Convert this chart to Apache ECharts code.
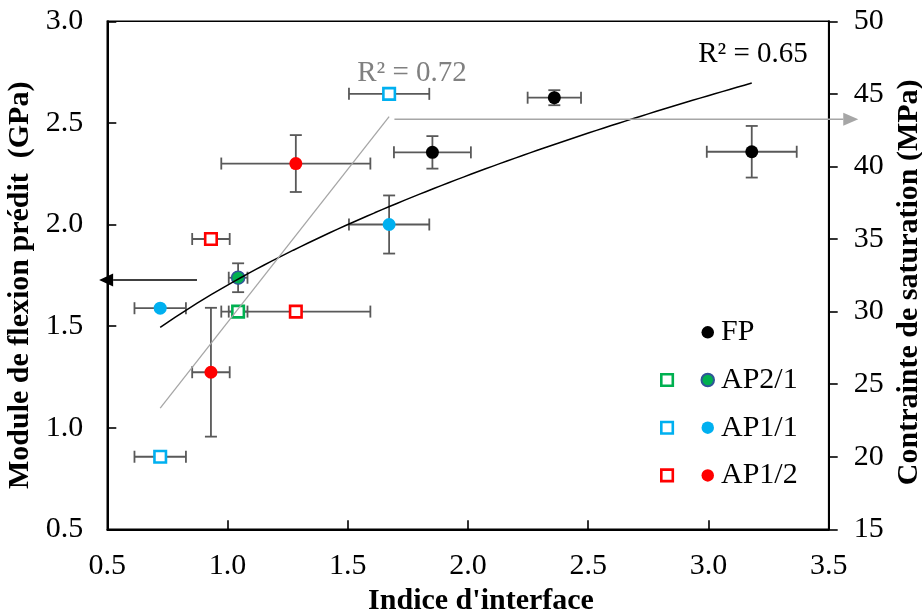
<!DOCTYPE html>
<html><head><meta charset="utf-8">
<script src="https://cdn.jsdelivr.net/npm/echarts@6/dist/echarts.min.js"></script>
<style>html,body{margin:0;padding:0;background:#fff}#c{width:922px;height:616px}</style>
</head><body><div id="c"></div>
<script>
// ---------- data ----------
const xAxisRange = [0.5, 3.5, 0.5];
const yLeftRange = [0.5, 3.0, 0.5];
const yRightRange = [15, 50, 5];
const xTitle = "Indice d'interface";
const yLeftTitle = "Module de flexion prédit  (GPa)";
const yRightTitle = "Contrainte de saturation (MPa)";

// Filled circles : predicted flexural modulus (left axis)
const fpX = [1.852, 2.359, 3.180];
const fpY = [2.355, 2.624, 2.358];
const fpXErr = [0.160, 0.111, 0.187];
const fpYErr = [0.080, 0.037, 0.127];

const ap21X = [1.044];
const ap21Y = [1.738];
const ap21XErr = [0.039];
const ap21YErr = [0.071];

const ap11X = [1.672, 0.720];
const ap11Y = [2.000, 1.588];
const ap11XErr = [0.167, 0.107];
const ap11YErr = [0.143, 0];

const ap12X = [1.284, 0.931];
const ap12Y = [2.300, 1.273];
const ap12XErr = [0.310, 0.078];
const ap12YErr = [0.140, 0.317];

// Open squares : saturation stress (right axis)
const sat21X = [1.044];
const sat21Y = [30];
const sat21XErr = [0.039];

const sat11X = [1.672, 0.720];
const sat11Y = [45, 20];
const sat11XErr = [0.167, 0.107];

const sat12X = [0.931, 1.284];
const sat12Y = [35, 30];
const sat12XErr = [0.078, 0.310];

const r2Labels = ["R² = 0.65", "R² = 0.72"];

// ---------- helpers ----------
const FONT = "'Liberation Serif','Times New Roman',serif";
const BLACK = '#000000', GREEN = '#00B050', BLUE = '#00B0F0', RED = '#FF0000';
const zip = (xs, ys) => xs.map((x, i) => [x, ys[i]]);
const zipErr = (xs, ys, ex, ey) => xs.map((x, i) => [x, ys[i], ex[i], ey ? ey[i] : 0]);

// power fit y = a x^b over all filled circles (Excel power trendline)
const allCX = [].concat(fpX, ap21X, ap11X, ap12X);
const allCY = [].concat(fpY, ap21Y, ap11Y, ap12Y);
function powerFit(xs, ys) {
  const lx = xs.map(Math.log), ly = ys.map(Math.log), n = xs.length;
  const mx = lx.reduce((a, b) => a + b) / n, my = ly.reduce((a, b) => a + b) / n;
  let sxy = 0, sxx = 0;
  lx.forEach((v, i) => { sxy += (v - mx) * (ly[i] - my); sxx += (v - mx) * (v - mx); });
  const b = sxy / sxx; const a = Math.exp(my - b * mx);
  return { a, b };
}
function linFit(xs, ys) {
  const n = xs.length;
  const mx = xs.reduce((a, b) => a + b) / n, my = ys.reduce((a, b) => a + b) / n;
  let sxy = 0, sxx = 0;
  xs.forEach((v, i) => { sxy += (v - mx) * (ys[i] - my); sxx += (v - mx) * (v - mx); });
  const b = sxy / sxx; return { a: my - b * mx, b };
}
const pf = powerFit(allCX, allCY);
const pMin = Math.min(...allCX), pMax = Math.max(...allCX);
const powerLine = [];
for (let i = 0; i <= 80; i++) { const x = pMin + (pMax - pMin) * i / 80; powerLine.push([x, pf.a * Math.pow(x, pf.b)]); }

const allSX = [].concat(sat21X, sat11X, sat12X);
const allSY = [].concat(sat21Y, sat11Y, sat12Y);
const lf = linFit(allSX, allSY);
const sMin = Math.min(...allSX), sMax = Math.max(...allSX);
const linLine = [[sMin, lf.a + lf.b * sMin], [sMax, lf.a + lf.b * sMax]];

const ERR_COLOR = '#595959';
function errRender(params, api) {
  const x = api.value(0), y = api.value(1), ex = api.value(2), ey = api.value(3);
  const cap = 6;
  const st = { stroke: ERR_COLOR, lineWidth: 1.8 };
  const ch = [];
  if (ex > 0) {
    const l = api.coord([x - ex, y]), r = api.coord([x + ex, y]);
    ch.push({ type: 'line', shape: { x1: l[0], y1: l[1], x2: r[0], y2: r[1] }, style: st });
    ch.push({ type: 'line', shape: { x1: l[0], y1: l[1] - cap, x2: l[0], y2: l[1] + cap }, style: st });
    ch.push({ type: 'line', shape: { x1: r[0], y1: r[1] - cap, x2: r[0], y2: r[1] + cap }, style: st });
  }
  if (ey > 0) {
    const t = api.coord([x, y + ey]), b = api.coord([x, y - ey]);
    ch.push({ type: 'line', shape: { x1: t[0], y1: t[1], x2: b[0], y2: b[1] }, style: st });
    ch.push({ type: 'line', shape: { x1: t[0] - cap, y1: t[1], x2: t[0] + cap, y2: t[1] }, style: st });
    ch.push({ type: 'line', shape: { x1: b[0] - cap, y1: b[1], x2: b[0] + cap, y2: b[1] }, style: st });
  }
  return { type: 'group', children: ch };
}

const chart = echarts.init(document.getElementById('c'), null, { renderer: 'canvas' });
const labelStyle = { fontFamily: FONT, fontSize: 30, color: BLACK };
const nameStyle = { fontFamily: FONT, fontSize: 30, fontWeight: 'bold', color: BLACK };

const circle = (name, xs, ys, color, extra) => ({
  name, type: 'scatter', xAxisIndex: 0, yAxisIndex: 0, data: zip(xs, ys),
  symbol: 'circle', symbolSize: 13, z: 5,
  itemStyle: Object.assign({ color, opacity: 1 }, extra || {})
});
const square = (name, xs, ys, color) => ({
  name, type: 'scatter', xAxisIndex: 0, yAxisIndex: 1, data: zip(xs, ys),
  symbol: 'rect', symbolSize: 11.5, z: 5,
  itemStyle: { color: '#ffffff', borderColor: color, borderWidth: 2.6, opacity: 1 }
});

const option = {
  animation: false,
  backgroundColor: '#ffffff',
  grid: { left: 107.3, right: 93.3, top: 21.3, bottom: 86.7, show: true, borderColor: BLACK, borderWidth: 1.6,
          containLabel: false, outerBoundsMode: 'none' },
  xAxis: {
    type: 'value', min: xAxisRange[0], max: xAxisRange[1], interval: xAxisRange[2],
    name: xTitle, nameLocation: 'middle', nameGap: 57,
    nameTextStyle: Object.assign({ padding: [0, 0, 0, 26] }, nameStyle),
    axisLine: { lineStyle: { color: BLACK, width: 2 } },
    axisTick: { inside: true, length: 9, lineStyle: { color: BLACK, width: 1.6 } },
    axisLabel: Object.assign({ margin: 22, formatter: v => v.toFixed(1) }, labelStyle),
    splitLine: { show: false }
  },
  yAxis: [{
    type: 'value', position: 'left', min: yLeftRange[0], max: yLeftRange[1], interval: yLeftRange[2],
    name: yLeftTitle, nameLocation: 'middle', nameGap: 68, nameRotate: 90,
    nameTextStyle: Object.assign({ padding: [0, 20, 0, 0] }, nameStyle),
    axisLine: { show: true, lineStyle: { color: BLACK, width: 2 } },
    axisTick: { show: true, inside: true, length: 9, lineStyle: { color: BLACK, width: 1.6 } },
    axisLabel: Object.assign({ margin: 24, formatter: v => v.toFixed(1) }, labelStyle),
    splitLine: { show: false }
  }, {
    type: 'value', position: 'right', min: yRightRange[0], max: yRightRange[1], interval: yRightRange[2],
    name: yRightTitle, nameLocation: 'middle', nameGap: 63, nameRotate: 90,
    nameTextStyle: Object.assign({ padding: [0, 14, 0, 0] }, nameStyle),
    axisLine: { show: true, lineStyle: { color: BLACK, width: 2 } },
    axisTick: { show: true, inside: false, length: 9, lineStyle: { color: BLACK, width: 1.6 } },
    axisLabel: Object.assign({ margin: 25 }, labelStyle),
    splitLine: { show: false }
  }],
  legend: [{
    data: ['FP', 'AP2/1', 'AP1/1', 'AP1/2'], orient: 'vertical', left: 700.5, top: 317.3,
    itemWidth: 12.5, itemHeight: 12.5, itemGap: 17.7, padding: 0, selectedMode: false,
    textStyle: { fontFamily: FONT, fontSize: 30, lineHeight: 30, color: BLACK, padding: [0, 0, 0, 2] }
  }, {
    data: ['AP2/1 sat', 'AP1/1 sat', 'AP1/2 sat'], orient: 'vertical', left: 660, top: 365,
    itemWidth: 11.5, itemHeight: 11.5, itemGap: 17.7, padding: 0, selectedMode: false,
    itemStyle: { borderWidth: 2.6 },
    formatter: () => ' ',
    textStyle: { fontFamily: FONT, fontSize: 30, lineHeight: 30, color: BLACK }
  }],
  series: [
    { name: 'errL', type: 'custom', xAxisIndex: 0, yAxisIndex: 0, z: 2, renderItem: errRender,
      data: [].concat(zipErr(fpX, fpY, fpXErr, fpYErr), zipErr(ap21X, ap21Y, ap21XErr, ap21YErr),
                      zipErr(ap11X, ap11Y, ap11XErr, ap11YErr), zipErr(ap12X, ap12Y, ap12XErr, ap12YErr)) },
    { name: 'errR', type: 'custom', xAxisIndex: 0, yAxisIndex: 1, z: 2, renderItem: errRender,
      data: [].concat(zipErr(sat21X, sat21Y, sat21XErr), zipErr(sat11X, sat11Y, sat11XErr), zipErr(sat12X, sat12Y, sat12XErr)) },
    square('AP2/1 sat', sat21X, sat21Y, GREEN),
    square('AP1/1 sat', sat11X, sat11Y, BLUE),
    square('AP1/2 sat', sat12X, sat12Y, RED),
    circle('FP', fpX, fpY, BLACK),
    circle('AP2/1', ap21X, ap21Y, GREEN, { borderColor: '#2F5597', borderWidth: 1.5 }),
    circle('AP1/1', ap11X, ap11Y, BLUE),
    circle('AP1/2', ap12X, ap12Y, RED),
    { name: 'power', type: 'line', xAxisIndex: 0, yAxisIndex: 0, data: powerLine, showSymbol: false, symbol: 'none',
      z: 6, lineStyle: { color: BLACK, width: 1.5 }, silent: true },
    { name: 'linear', type: 'line', xAxisIndex: 0, yAxisIndex: 1, data: linLine, showSymbol: false, symbol: 'none',
      z: 6, lineStyle: { color: '#A6A6A6', width: 1.3 }, silent: true }
  ]
};
chart.setOption(option);

// ---------- annotations (arrows + R² texts) positioned in data space ----------
const arrowLeft = { y: 1.727, xStart: 0.873, xTip: 0.466 };   // left axis
const arrowRight = { y: 43.25, xStart: 1.694, xTip: 3.623 };  // right axis
const r2Pos = [[2.957, 2.839], [1.539, 2.746]];
const P = (x, y, yi) => chart.convertToPixel({ xAxisIndex: 0, yAxisIndex: yi }, [x, y]);

function arrow(a, yi, color, head) {
  const s = P(a.xStart, a.y, yi), t = P(a.xTip, a.y, yi);
  const dir = Math.sign(t[0] - s[0]);
  const bx = t[0] - dir * head;
  return [
    { type: 'line', shape: { x1: s[0], y1: s[1], x2: bx, y2: t[1] }, style: { stroke: color, lineWidth: 1.6 }, z: 10 },
    { type: 'polygon', shape: { points: [[t[0], t[1]], [bx, t[1] - 6.5], [bx, t[1] + 6.5]] }, style: { fill: color }, z: 10 }
  ];
}
const p65 = P(r2Pos[0][0], r2Pos[0][1], 0), p72 = P(r2Pos[1][0], r2Pos[1][1], 0);
chart.setOption({
  graphic: [].concat(
    arrow(arrowLeft, 0, BLACK, 14),
    arrow(arrowRight, 1, '#A6A6A6', 15),
    [
      { type: 'text', x: p65[0], y: p65[1], z: 10, style: { text: r2Labels[0], font: '29px ' + FONT, fill: BLACK, textAlign: 'left', textVerticalAlign: 'middle' } },
      { type: 'text', x: p72[0], y: p72[1], z: 10, style: { text: r2Labels[1], font: '29px ' + FONT, fill: '#808080', textAlign: 'left', textVerticalAlign: 'middle' } }
    ]
  )
});
</script></body></html>
